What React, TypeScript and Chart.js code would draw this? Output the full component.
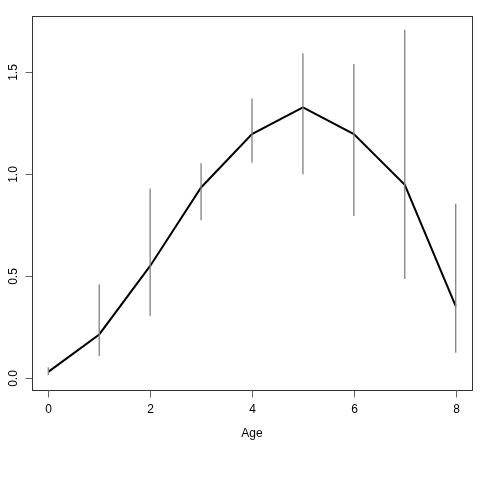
import React, { useEffect, useRef } from "react";
import { Chart, registerables } from "chart.js";

Chart.register(...registerables);

const ages = [0, 1, 2, 3, 4, 5, 6, 7, 8];
const means = [0.031, 0.214, 0.549, 0.933, 1.194, 1.325, 1.194, 0.946, 0.353];
const lower = [0.015, 0.108, 0.304, 0.773, 1.054, 0.998, 0.794, 0.485, 0.124];
const upper = [0.054, 0.46, 0.928, 1.052, 1.368, 1.59, 1.537, 1.704, 0.853];
const xTicks = [0, 2, 4, 6, 8];
const yTicks = [0, 0.5, 1.0, 1.5];
const xLabel = "Age";

const FONT = "12px 'Liberation Sans', Arial, Helvetica, sans-serif";

const axesPlugin = {
  id: "rAxes",
  afterDraw(chart: any) {
    const { ctx, chartArea, scales } = chart;
    const xs = scales.x;
    const ys = scales.y;
    ctx.save();
    // box
    ctx.strokeStyle = "#333333";
    ctx.lineWidth = 1;
    ctx.strokeRect(
      Math.round(chartArea.left) + 0.5,
      Math.round(chartArea.top) + 0.5,
      Math.round(chartArea.right - chartArea.left),
      Math.round(chartArea.bottom - chartArea.top)
    );
    ctx.font = FONT;
    ctx.fillStyle = "#000000";
    // x ticks
    const b = Math.round(chartArea.bottom) + 0.5;
    ctx.textAlign = "center";
    ctx.textBaseline = "middle";
    for (const v of xTicks) {
      const px = Math.round(xs.getPixelForValue(v)) + 0.5;
      ctx.beginPath();
      ctx.moveTo(px, b);
      ctx.lineTo(px, b + 7);
      ctx.strokeStyle = "#666666";
      ctx.stroke();
      ctx.fillText(String(v), px, b + 19);
    }
    ctx.fillText(xLabel, (chartArea.left + chartArea.right) / 2, b + 43);
    // y ticks
    const l = Math.round(chartArea.left) + 0.5;
    for (const v of yTicks) {
      const py = Math.round(ys.getPixelForValue(v)) + 0.5;
      ctx.beginPath();
      ctx.moveTo(l, py);
      ctx.lineTo(l - 7, py);
      ctx.strokeStyle = "#666666";
      ctx.stroke();
      ctx.save();
      ctx.translate(l - 19, py);
      ctx.rotate(-Math.PI / 2);
      ctx.fillText(v.toFixed(1), 0, 0);
      ctx.restore();
    }
    ctx.restore();
  },
};

export default function App() {
  const ref = useRef<HTMLCanvasElement>(null);
  useEffect(() => {
    if (!ref.current) return;
    const errDatasets = ages.map((a, i) => ({
      type: "line" as const,
      data: [
        { x: a, y: lower[i] },
        { x: a, y: upper[i] },
      ],
      borderColor: "#808080",
      borderWidth: 1.3,
      pointRadius: 0,
      fill: false,
    }));
    const chart = new Chart(ref.current, {
      type: "line",
      data: {
        datasets: [
          ...errDatasets,
          {
            type: "line",
            data: ages.map((a, i) => ({ x: a, y: means[i] })),
            borderColor: "#000000",
            borderWidth: 2,
            pointRadius: 0,
            fill: false,
            tension: 0,
          },
        ],
      },
      options: {
        animation: false,
        responsive: false,
        maintainAspectRatio: false,
        layout: { padding: { left: 32, top: 16, right: 8, bottom: 90 } },
        plugins: { legend: { display: false }, tooltip: { enabled: false } },
        scales: {
          x: { type: "linear", min: -0.32, max: 8.32, display: false },
          y: { type: "linear", min: -0.0578, max: 1.7718, display: false },
        },
      },
      plugins: [axesPlugin],
    });
    return () => chart.destroy();
  }, []);
  return (
    <div style={{ position: "absolute", left: 0, top: 0, width: 480, height: 480, background: "#fff" }}>
      <canvas ref={ref} width={480} height={480} style={{ width: 480, height: 480 }} />
    </div>
  );
}
